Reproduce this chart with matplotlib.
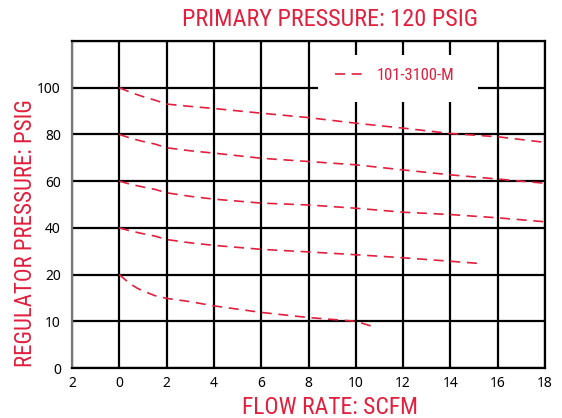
import matplotlib
matplotlib.use("Agg")
import matplotlib.pyplot as plt
from matplotlib.patches import Rectangle
import numpy as np

# flow rate (SCFM) and regulator pressure (PSIG)
flow_100 = [0, 0.5, 1, 1.5, 2, 3, 4, 6, 8, 10, 12, 14, 16, 18]
psig_100 = [100, 97.9, 96.2, 94.7, 93, 92, 91.1, 89.1, 87.2, 84.8, 82.7, 80.4, 79.0, 76.6]

flow_80 = [0, 0.5, 1, 1.5, 2, 3, 4, 6, 8, 10, 12, 14, 16, 18]
psig_80 = [80, 78.3, 77.0, 75.9, 74.3, 73.0, 72, 69.8, 68.4, 67, 64.8, 62.7, 60.9, 59.1]

flow_60 = [0, 0.5, 1, 1.5, 2, 3, 4, 6, 8, 10, 12, 14, 16, 18]
psig_60 = [60, 58.6, 57.5, 56.5, 55, 53.5, 52.3, 50.6, 49.8, 48.4, 46.7, 45.7, 44.3, 42.6]

flow_40 = [0, 0.5, 1, 1.5, 2, 3, 4, 6, 8, 10, 12, 14, 15.3]
psig_40 = [40, 38.6, 37.5, 36.5, 35, 33.6, 32.5, 30.8, 29.7, 28.5, 27.2, 25.7, 24.7]

flow_20 = [0, 0.25, 0.5, 0.75, 1, 1.5, 2, 3, 4, 6, 8, 10, 10.9]
psig_20 = [20, 18.9, 17.9, 17.1, 16.5, 15.5, 14.9, 14.2, 13.3, 11.9, 10.8, 10.0, 8.6]

x_ticks = [-2, 0, 2, 4, 6, 8, 10, 12, 14, 16, 18]
x_labels = ["2", "0", "2", "4", "6", "8", "10", "12", "14", "16", "18"]
y_ticks = [0, 10, 20, 40, 60, 80, 100, 120]
y_labels = ["0", "10", "20", "40", "60", "80", "100", ""]

red = "#e21f3d"
label_font = ["Roboto Condensed", "Roboto", "DejaVu Sans"]

# uneven y axis: each gridline is one equal step
steps = np.arange(len(y_ticks))
def fwd(v):
    return np.interp(v, y_ticks, steps)
def inv(p):
    return np.interp(p, steps, y_ticks)

fig = plt.figure(figsize=(5.62, 4.18), dpi=100)
ax = fig.add_axes([72/562, 1 - 368/418, 473/562, 327/418])
ax.set_yscale("function", functions=(fwd, inv))
ax.set_xlim(-2, 18)
ax.set_ylim(0, 120)

ax.set_xticks(x_ticks)
ax.set_xticklabels(x_labels)
ax.set_yticks(y_ticks)
ax.set_yticklabels(y_labels)
ax.minorticks_off()
ax.tick_params(axis="x", length=0, labelsize=10, pad=6)
ax.tick_params(axis="y", length=0, labelsize=10, pad=8)
for lab in ax.get_xticklabels() + ax.get_yticklabels():
    lab.set_fontfamily("Noto Sans")

ax.set_axisbelow(True)
ax.grid(True, color="black", linewidth=1.6)
for s in ax.spines.values():
    s.set_color("black")
    s.set_linewidth(1.6)
ax.spines["left"].set_color("#777777")

for fx, py in [(flow_100, psig_100), (flow_80, psig_80), (flow_60, psig_60),
               (flow_40, psig_40), (flow_20, psig_20)]:
    ax.plot(fx, py, color=red, linewidth=1.2, dashes=(6, 4), zorder=3)

# white box behind the legend, covering the grid
ax.add_patch(Rectangle((318/562, 1 - 102/418), 160/562, 47/418, transform=fig.transFigure,
                       facecolor="white", edgecolor="none", zorder=1))
handle, = ax.plot([], [], color=red, linewidth=1.2, dashes=(6, 4))
leg = fig.legend([handle], ["101-3100-M"], loc="center", bbox_to_anchor=(395/562, 1 - 75/418),
                 frameon=False, handlelength=1.7, handletextpad=0.8,
                 prop={"family": label_font, "size": 12})
for t in leg.get_texts():
    t.set_color(red)

fig.text(330/562, 1 - 20/418, "PRIMARY PRESSURE: 120 PSIG", color=red, ha="center", va="center",
         family=label_font, fontsize=17.5)
fig.text(330/562, 1 - 407/418, "FLOW RATE: SCFM", color=red, ha="center", va="center",
         family=label_font, fontsize=17)
fig.text(26/562, 1 - 233/418, "REGULATOR PRESSURE: PSIG", color=red, ha="center", va="center",
         rotation=90, family=label_font, fontsize=16.5)

fig.savefig("out.png", dpi=100)
